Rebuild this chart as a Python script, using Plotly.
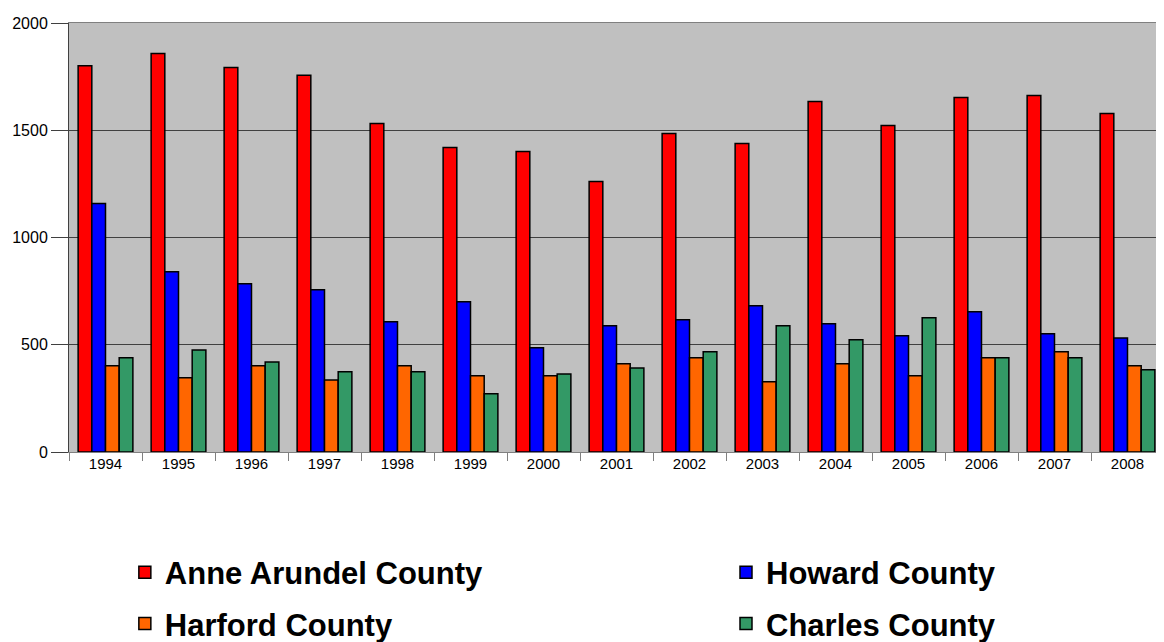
import plotly.graph_objects as go

# Years on the x axis
years = ["1994", "1995", "1996", "1997", "1998", "1999", "2000", "2001",
         "2002", "2003", "2004", "2005", "2006", "2007", "2008"]

# Values
anne_arundel = [1801, 1858, 1793, 1756, 1532, 1419, 1401, 1261,
                1485, 1438, 1634, 1522, 1653, 1662, 1578]
howard = [1158, 840, 784, 756, 607, 700, 486, 588,
          616, 682, 598, 542, 654, 551, 532]
harford = [402, 346, 402, 336, 402, 355, 355, 411,
           439, 327, 411, 355, 439, 467, 402]
charles = [439, 476, 420, 374, 374, 271, 364, 392,
           467, 588, 523, 626, 439, 439, 383]

# (name, values, colour, legend) - two legends give the 2x2 legend grid
series = [
    ("Anne Arundel County", anne_arundel, "#FF0000", "legend"),
    ("Howard County", howard, "#0000FF", "legend2"),
    ("Harford County", harford, "#FF6600", "legend"),
    ("Charles County", charles, "#339966", "legend2"),
]

fig = go.Figure()
for name, values, color, legend in series:
    fig.add_trace(
        go.Bar(
            x=years,
            y=values,
            name=name,
            legend=legend,
            legendgroup=name,
            marker=dict(color=color, line=dict(color="#000000", width=1.5)),
        )
    )

legend_font = dict(family="Liberation Sans, Arial, sans-serif", size=31,
                   color="#000000", weight="bold")
legend_common = dict(
    orientation="v",
    y=-0.218,
    xanchor="left",
    yanchor="top",
    tracegroupgap=8,
    font=legend_font,
    bgcolor="rgba(0,0,0,0)",
)

# the page body has an 8px margin; the figure runs a little past the window
# bottom so the legend never pushes the margins
fig.update_layout(
    width=1156,
    height=660,
    barmode="group",
    bargap=0.25,
    bargroupgap=0,
    plot_bgcolor="#C0C0C0",
    paper_bgcolor="#FFFFFF",
    margin=dict(l=61, r=0, t=15, b=216),
    font=dict(family="Liberation Sans, Arial, sans-serif", color="#000000"),
    legend=dict(x=0.051, **legend_common),
    legend2=dict(x=0.600, **legend_common),
    showlegend=True,
)

fig.update_xaxes(
    type="category",
    automargin=False,
    tickson="boundaries",
    ticks="outside",
    ticklen=8,
    tickcolor="#808080",
    showline=True,
    mirror=True,
    linecolor="#808080",
    linewidth=1,
    showgrid=False,
    ticklabelstandoff=-2,
    tickfont=dict(family="Liberation Sans, Arial, sans-serif", size=15),
)

fig.update_yaxes(
    automargin=False,
    range=[0, 2000],
    tickvals=[0, 500, 1000, 1500, 2000],
    ticks="outside",
    ticklen=17,
    tickcolor="#404040",
    showline=True,
    linecolor="#404040",
    linewidth=1,
    showgrid=True,
    gridcolor="#404040",
    gridwidth=1,
    zeroline=False,
    tickfont=dict(family="Liberation Sans, Arial, sans-serif", size=16),
)

fig.write_html("out.html")
